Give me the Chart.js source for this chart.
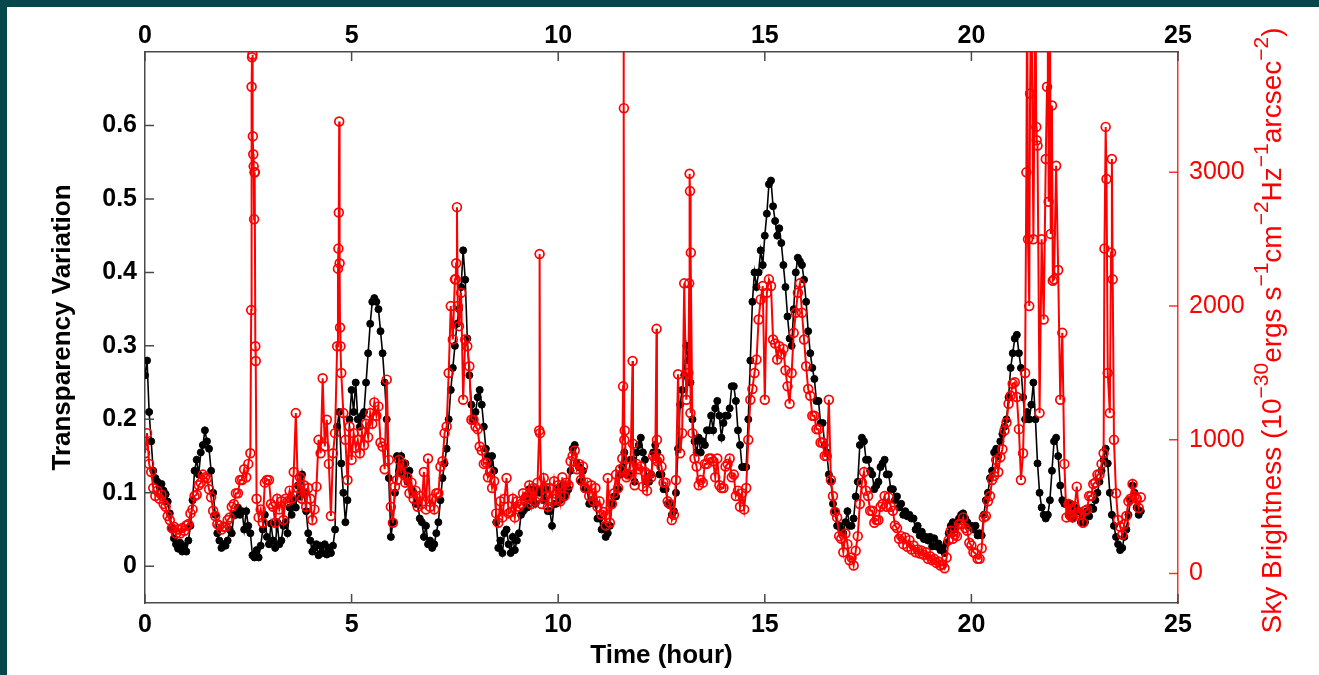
<!DOCTYPE html>
<html><head><meta charset="utf-8">
<script src="https://cdn.jsdelivr.net/npm/chart.js@4.4.0/dist/chart.umd.min.js"></script>
<style>
html,body{margin:0;padding:0;background:#05474a;width:1319px;height:675px;overflow:hidden;}
#wrap{position:absolute;left:7px;top:7px;width:1312px;height:668px;background:#fff;}
canvas{display:block;}
</style></head><body>
<div id="wrap"><canvas id="c" width="1312" height="668"></canvas></div>
<script>
// sampling interval of both series (hours)
const timeStep = 0.05;
// Transparency variation (left axis), one value per sample
const transparency = [
0.26,0.28,0.21,0.17,0.13,0.12,0.115,0.108,0.112,0.103,0.098,0.088,0.072,0.052,0.038,0.03,0.024,0.032,0.02,0.028,
0.02,0.035,0.055,0.09,0.13,0.145,0.125,0.155,0.165,0.185,0.17,0.16,0.13,0.1,0.07,0.045,0.035,0.025,0.03,0.028,
0.035,0.05,0.045,0.07,0.07,0.08,0.07,0.075,0.05,0.075,0.055,0.045,0.015,0.012,0.022,0.012,0.028,0.05,0.07,0.04,
0.03,0.058,0.035,0.025,0.06,0.03,0.035,0.055,0.06,0.045,0.08,0.07,0.09,0.08,0.11,0.095,0.125,0.1,0.075,0.045,
0.035,0.02,0.025,0.03,0.015,0.028,0.018,0.03,0.016,0.025,0.018,0.028,0.05,0.19,0.21,0.14,0.1,0.06,0.09,0.2,
0.24,0.21,0.25,0.2,0.19,0.205,0.21,0.25,0.29,0.33,0.36,0.365,0.36,0.35,0.32,0.29,0.25,0.2,0.12,0.04,
0.06,0.1,0.15,0.13,0.15,0.125,0.14,0.115,0.13,0.105,0.1,0.085,0.085,0.065,0.06,0.04,0.055,0.03,0.035,0.025,
0.03,0.045,0.06,0.09,0.12,0.14,0.16,0.2,0.24,0.27,0.3,0.33,0.35,0.38,0.43,0.39,0.31,0.26,0.22,0.2,
0.21,0.23,0.24,0.22,0.19,0.16,0.15,0.14,0.15,0.13,0.06,0.025,0.035,0.018,0.045,0.05,0.03,0.018,0.04,0.022,
0.035,0.045,0.07,0.075,0.095,0.08,0.105,0.09,0.105,0.085,0.105,0.1,0.105,0.09,0.105,0.075,0.075,0.055,0.085,0.085,
0.105,0.09,0.11,0.095,0.1,0.105,0.13,0.16,0.165,0.14,0.135,0.115,0.13,0.105,0.105,0.085,0.09,0.09,0.085,0.065,
0.065,0.05,0.055,0.04,0.045,0.055,0.085,0.095,0.095,0.105,0.125,0.135,0.155,0.125,0.125,0.145,0.145,0.115,0.155,0.165,
0.175,0.155,0.145,0.115,0.115,0.125,0.155,0.165,0.155,0.125,0.125,0.105,0.105,0.085,0.085,0.07,0.075,0.1,0.16,0.22,
0.24,0.26,0.3,0.28,0.25,0.2,0.17,0.155,0.175,0.155,0.17,0.165,0.185,0.185,0.205,0.185,0.215,0.225,0.205,0.175,
0.195,0.205,0.205,0.215,0.245,0.245,0.225,0.185,0.165,0.135,0.135,0.135,0.2,0.28,0.36,0.4,0.38,0.4,0.43,0.41,
0.45,0.48,0.52,0.525,0.49,0.47,0.45,0.46,0.44,0.41,0.38,0.34,0.31,0.3,0.35,0.4,0.42,0.415,0.41,0.39,
0.36,0.32,0.29,0.27,0.255,0.225,0.225,0.195,0.195,0.165,0.155,0.125,0.115,0.085,0.075,0.055,0.055,0.05,0.045,0.06,
0.075,0.055,0.055,0.065,0.095,0.115,0.165,0.175,0.17,0.145,0.145,0.13,0.125,0.105,0.11,0.115,0.135,0.14,0.145,0.125,
0.125,0.105,0.105,0.09,0.095,0.08,0.085,0.07,0.075,0.068,0.07,0.065,0.065,0.05,0.055,0.042,0.047,0.037,0.04,0.035,
0.04,0.027,0.038,0.027,0.031,0.022,0.025,0.018,0.032,0.045,0.055,0.06,0.05,0.06,0.065,0.07,0.072,0.065,0.06,0.055,
0.055,0.05,0.055,0.042,0.045,0.042,0.07,0.09,0.1,0.12,0.13,0.155,0.16,0.15,0.17,0.18,0.19,0.2,0.23,0.27,
0.29,0.31,0.315,0.29,0.27,0.23,0.2,0.21,0.2,0.22,0.25,0.2,0.14,0.1,0.08,0.07,0.065,0.07,0.09,0.13,
0.17,0.175,0.15,0.11,0.09,0.085,0.085,0.07,0.085,0.065,0.08,0.075,0.075,0.06,0.067,0.06,0.075,0.068,0.08,0.078,
0.09,0.1,0.115,0.13,0.145,0.16,0.14,0.1,0.07,0.055,0.04,0.03,0.022,0.025,0.04,0.05,0.07,0.09,0.11,0.1,
0.08,0.07,0.075
];
// Sky brightness (right axis), one value per sample
const skyBrightness = [
900,1050,820,760,640,580,620,560,590,520,500,430,400,340,350,300,330,300,340,320,
360,370,450,480,580,590,660,680,740,720,710,630,570,470,430,370,360,330,350,350,
400,420,500,520,600,600,700,700,780,720,820,900,3880,3000,560,420,480,380,680,700,
700,520,500,380,560,480,540,400,560,540,620,560,760,1200,640,720,560,660,500,640,
560,400,480,650,1000,900,1460,950,1150,820,430,900,1050,1700,3380,1500,1200,1000,700,1100,
850,1050,940,1000,900,1060,960,1120,1020,1200,1120,1280,1180,1250,980,950,780,1450,850,500,
380,650,700,850,760,820,680,720,600,680,560,620,500,580,520,760,480,860,500,560,
480,600,600,800,840,1050,1100,1500,2000,1750,2200,2740,1850,2100,1300,1750,1700,1550,1150,1150,
1100,1080,950,920,820,830,720,760,640,690,450,380,540,420,560,715,450,460,560,420,
540,500,520,600,560,580,660,520,640,540,680,2390,520,715,640,500,640,540,690,560,
660,540,720,580,680,660,840,880,920,780,820,700,800,640,680,580,660,540,640,500,
540,440,460,360,715,380,520,600,740,640,780,860,1000,720,740,800,1590,660,820,780,
800,650,760,620,740,720,880,860,840,860,800,680,680,540,520,400,440,700,1490,900,
1050,2170,1300,1500,1200,1050,860,800,660,700,680,820,820,860,860,840,720,860,660,640,
640,800,820,860,720,740,580,620,500,600,480,640,1000,1300,1380,1500,1600,1900,2050,2150,
1300,2100,2200,2150,1750,1720,1600,1700,1640,1680,1520,1400,1270,1500,1800,1950,2100,2170,1950,1750,
1550,1380,1330,1180,1180,1080,1080,980,980,880,880,1300,700,580,460,420,280,260,160,300,
220,100,120,60,170,280,520,680,760,620,580,470,470,380,400,400,500,520,580,500,
570,500,470,360,340,260,280,220,270,200,250,180,210,160,180,150,170,140,160,110,
130,100,110,80,90,60,70,40,120,250,320,260,290,280,370,370,420,340,320,230,
210,160,150,110,110,190,420,430,540,580,700,730,850,760,870,930,1070,1130,1270,1330,
1420,1430,1320,1080,700,900,1500,4500,2000,4500,2500,4500,3200,1200,2500,1900,3100,4500,4500,3500,
2200,3050,2270,1300,1800,820,420,520,430,420,500,650,460,440,380,470,480,580,580,670,
680,740,740,820,900,3340,1500,1200,3100,1000,600,400,350,290,370,430,540,560,670,580,
560,490,570
];
// extra sky-brightness readings inside the short flare spikes
const spikeTimes = [2.57,2.58,2.59,2.61,2.62,2.63,2.64,2.66,2.67,2.68,4.67,4.68,4.69,4.71,4.72,4.73,7.52,7.53,7.57,9.54,9.56,11.57,11.58,11.59,11.61,11.81,12.38,12.39,13.17,13.18,13.19,13.21,21.33,21.37,21.42,21.57,21.58,21.83,21.87,21.92,21.97,23.22,23.27,23.38,23.42];
const spikeValues = [1970,3640,3860,3270,3135,3045,2650,3000,1700,1590,2280,2430,2700,2320,1840,1700,2200,2320,2000,1070,1050,1400,4500,3480,1070,970,1830,1000,2170,2990,2860,2400,3000,2500,3590,3340,3240,3640,2780,2540,2190,2430,2950,2400,2200];
// axis ticks
const xTicks = [0,5,10,15,20,25];
const leftTicks = [0,0.1,0.2,0.3,0.4,0.5,0.6];
const leftTickLabels = ['0','0.1','0.2','0.3','0.4','0.5','0.6'];
const rightTicks = [0,1000,2000,3000];
const rightTickLabels = ['0','1000','2000','3000'];

const FONT = "'Liberation Sans', Arial, Helvetica, sans-serif";
const sampleTime = i => Math.round(i * timeStep * 100) / 100;

const blackData = transparency.map((v, i) => ({x: sampleTime(i), y: v}));
const redData = skyBrightness.map((v, i) => ({x: sampleTime(i), y: v}))
  .concat(spikeTimes.map((t, i) => ({x: t, y: spikeValues[i]})))
  .sort((a, b) => a.x - b.x);

const AXIS_COL = '#4a4a4a';
const RED_AXIS = 'rgba(255,0,0,0.8)';

const inwardTicks = {
  id: 'inwardTicks',
  afterDraw(chart) {
    const ctx = chart.ctx, a = chart.chartArea, L = 9;
    const sx = chart.scales.x, yl = chart.scales.yL, yr = chart.scales.yR;
    ctx.save();
    ctx.lineWidth = 1.5;
    ctx.strokeStyle = AXIS_COL;
    ctx.beginPath();
    xTicks.forEach(v => {
      const p = sx.getPixelForValue(v);
      ctx.moveTo(p, a.bottom); ctx.lineTo(p, a.bottom - L);
      ctx.moveTo(p, a.top); ctx.lineTo(p, a.top + L);
    });
    leftTicks.forEach(v => {
      const p = yl.getPixelForValue(v);
      ctx.moveTo(a.left, p); ctx.lineTo(a.left + L, p);
    });
    ctx.stroke();
    ctx.strokeStyle = RED_AXIS;
    ctx.beginPath();
    rightTicks.forEach(v => {
      const p = yr.getPixelForValue(v);
      ctx.moveTo(a.right, p); ctx.lineTo(a.right - L, p);
    });
    ctx.stroke();
    ctx.restore();
  }
};

const rightTitle = {
  id: 'rightTitle',
  afterDraw(chart) {
    const ctx = chart.ctx, a = chart.chartArea;
    const parts = [['Sky Brightness (10', 0], ['\u221230', 1], ['ergs s', 0], ['\u22121', 1], ['cm', 0], ['\u22122', 1],
                   ['Hz', 0], ['\u22121', 1], ['arcsec', 0], ['\u22122', 1], [')', 0]];
    const big = '28px ' + FONT, small = '21px ' + FONT;
    ctx.save();
    let total = 0;
    parts.forEach(p => { ctx.font = p[1] ? small : big; total += ctx.measureText(p[0]).width; });
    ctx.translate(a.right + 95, (a.top + a.bottom) / 2 + 3);
    ctx.rotate(-Math.PI / 2);
    ctx.fillStyle = '#ff0000';
    ctx.textBaseline = 'middle';
    ctx.textAlign = 'left';
    let x = -total / 2;
    parts.forEach(p => {
      ctx.font = p[1] ? small : big;
      ctx.fillText(p[0], x, p[1] ? -11 : 0);
      x += ctx.measureText(p[0]).width;
    });
    ctx.restore();
  }
};

const xCommon = (pos, h, pad) => ({
  type: 'linear', position: pos, min: 0, max: 25,
  afterBuildTicks: s => { s.ticks = xTicks.map(v => ({value: v})); },
  afterFit: s => { s.height = h; },
  grid: {display: true, drawOnChartArea: false, drawTicks: false},
  border: {display: true, color: AXIS_COL, width: 1.5},
  ticks: {color: '#000', font: {family: FONT, size: 25, weight: 'bold'}, padding: pad, maxRotation: 0, autoSkip: false,
          callback: v => String(v)}
});

new Chart(document.getElementById('c'), {
  type: 'line',
  data: {
    datasets: [
      {
        label: 'Sky Brightness', data: redData, xAxisID: 'x', yAxisID: 'yR', order: 0,
        borderColor: '#ff0000', borderWidth: 2, tension: 0,
        pointStyle: 'circle', pointRadius: 4.4, pointBorderWidth: 1.7,
        pointBorderColor: '#ff0000', pointBackgroundColor: 'rgba(255,0,0,0)'
      },
      {
        label: 'Transparency Variation', data: blackData, xAxisID: 'x', yAxisID: 'yL', order: 1,
        borderColor: '#000', borderWidth: 1.6, tension: 0,
        pointStyle: 'circle', pointRadius: 3.5, pointBorderWidth: 1,
        pointBorderColor: '#000', pointBackgroundColor: '#000'
      }
    ]
  },
  options: {
    responsive: false, animation: false, devicePixelRatio: 1,
    layout: {padding: 0},
    plugins: {legend: {display: false}, tooltip: {enabled: false}},
    scales: {
      x: Object.assign(xCommon('bottom', 72, 7), {
        title: {display: true, text: 'Time (hour)', color: '#000',
                font: {family: FONT, size: 26, weight: 'bold'}, padding: {top: 0, bottom: 4}}
      }),
      x2: xCommon('top', 45, 1),
      yL: {
        type: 'linear', position: 'left', min: -0.05, max: 0.7,
        afterBuildTicks: s => { s.ticks = leftTicks.map(v => ({value: v})); },
        afterFit: s => { s.width = 138; },
        grid: {display: true, drawOnChartArea: false, drawTicks: false},
        border: {display: true, color: AXIS_COL, width: 1.5},
        ticks: {color: '#000', font: {family: FONT, size: 25, weight: 'bold'}, padding: 8,
                callback: v => leftTickLabels[leftTicks.indexOf(v)]},
        title: {display: true, text: 'Transparency Variation', color: '#000',
                font: {family: FONT, size: 26, weight: 'bold'}, padding: {top: 40, bottom: 0}}
      },
      yR: {
        type: 'linear', position: 'right', min: -220, max: 3900,
        afterBuildTicks: s => { s.ticks = rightTicks.map(v => ({value: v})); },
        afterFit: s => { s.width = 141; },
        grid: {display: true, drawOnChartArea: false, drawTicks: false},
        border: {display: true, color: RED_AXIS, width: 1.5},
        ticks: {color: '#ff0000', font: {family: FONT, size: 25}, padding: 11,
                callback: v => rightTickLabels[rightTicks.indexOf(v)]}
      }
    }
  },
  plugins: [inwardTicks, rightTitle]
});
</script>
</body></html>
